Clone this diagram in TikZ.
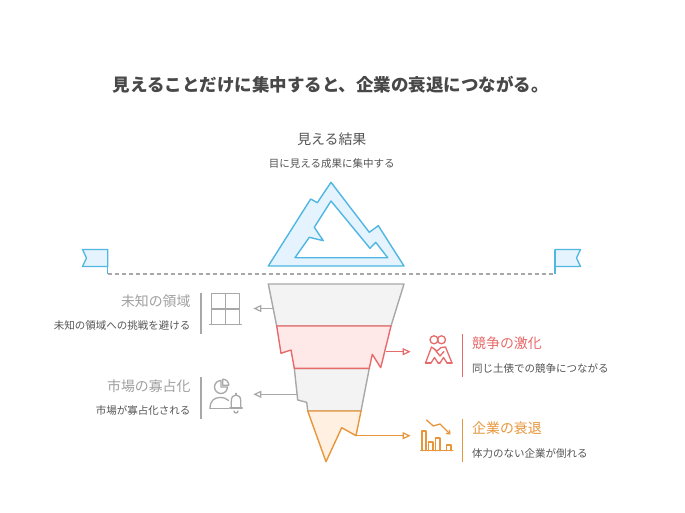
\documentclass[tikz,border=0pt]{standalone}
\usepackage{fontspec}
\setmainfont{Noto Sans CJK JP}
\usetikzlibrary{arrows.meta}
\definecolor{ttl}{RGB}{72,72,72}
\definecolor{desc}{RGB}{85,85,85}
\definecolor{lgray}{RGB}{160,160,160}
\definecolor{gline}{RGB}{168,168,168}
\definecolor{gfill}{RGB}{243,243,243}
\definecolor{rline}{RGB}{232,107,107}
\definecolor{rfill}{RGB}{255,232,232}
\definecolor{oline}{RGB}{232,150,60}
\definecolor{ofill}{RGB}{255,240,225}
\definecolor{bline}{RGB}{80,182,226}
\definecolor{bfill}{RGB}{228,243,253}
\tikzset{
  head/.style={inner sep=0pt, font=\fontsize{13.9}{16}\selectfont},
  sub/.style={inner sep=0pt, text=desc, font=\fontsize{10.5}{12}\selectfont},
  arr/.style={-{Triangle[open,length=8pt,width=7pt]}, line width=1.2pt},
  icon/.style={line width=1.3pt, line cap=round, line join=round},
  seg/.style={line width=1.4pt, line join=round},
}
\begin{document}
\begin{tikzpicture}[x=1pt,y=-1pt]
\useasboundingbox (0,0) rectangle (685,513);
\fill[white] (0,0) rectangle (685,513);

% title
\node[inner sep=0pt, anchor=west, text=ttl, font=\bfseries\fontsize{17.5}{20}\selectfont] (title) at (112.5,85) {見えることだけに集中すると、企業の衰退につながる。};

% top label
\node[head, text=desc] (topH) at (331.8,139) {見える結果};
\node[sub] (topS) at (331.8,164) {目に見える成果に集中する};

% mountain
\path[fill=bfill, draw=bline, line width=1.4pt, line join=round, even odd rule]
 (268.3,266) -- (310.7,199) -- (317.3,202.7) -- (331,182.3) -- (369.3,232.3) -- (378.3,225.7) -- (404,266) -- cycle
 (331,201) -- (370,248.3) -- (375.7,242.3) -- (387.7,257.7) -- (295,257.7) -- (309.3,237.3) -- (323.3,240.7) -- (314.3,227.3) -- cycle;

% flags and dashed line
\coordinate (lfb) at (107.7,274);
\coordinate (rfb) at (555,274);
\draw[gline, line width=1.2pt, dash pattern=on 4pt off 3pt] (lfb) -- (rfb);
\draw[fill=bfill, draw=bline, line width=1.3pt, line join=round]
 (82.5,249.5) -- (107.7,249.5) -- (107.7,266.5) -- (82.5,266.5) -- (86.5,258) -- cycle;
\draw[bline, line width=1.4pt] (107.7,249.5) -- (lfb);
\draw[fill=bfill, draw=bline, line width=1.3pt, line join=round]
 (555,249.5) -- (580.5,249.5) -- (576.5,258) -- (580.5,266.5) -- (555,266.5) -- cycle;
\draw[bline, line width=1.4pt] (555,249.5) -- (rfb);

% funnel
\path[seg, fill=gfill, draw=gline] (268.3,284) -- (404,284) -- (391,326) -- (276.7,326) -- cycle;
\path[seg, fill=gfill, draw=gline] (294.3,368.3) -- (369.3,368.3) -- (361,411) -- (307.7,411) -- (306.7,402.3) -- (297.7,400) -- cycle;
\path[seg, fill=ofill, draw=oline] (307.7,411) -- (361,411) -- (356,435.7) -- (341.7,427.7) -- (326,461.7) -- cycle;
\path[seg, fill=rfill, draw=rline] (276.7,326) -- (391,326) -- (380.7,367.7) -- (372.3,354.3) -- (369.3,368.3) -- (294.3,368.3) -- (291,350) -- (281,353.3) -- cycle;

% arrows
\coordinate (a1s) at (273.2,308.5); \coordinate (a1e) at (253.3,308.5);
\coordinate (a2s) at (297,394.3);   \coordinate (a2e) at (253.3,394.3);
\coordinate (a3s) at (385.7,351.7); \coordinate (a3e) at (410.7,351.7);
\coordinate (a4s) at (356,435.7);   \coordinate (a4e) at (410.7,435.7);
\draw[arr, gline] (a1s) -- (a1e);
\draw[arr, gline] (a2s) -- (a2e);
\draw[arr, rline] (a3s) -- (a3e);
\draw[arr, oline] (a4s) -- (a4e);

% left labels
\node[head, text=lgray, anchor=east] (l1h) at (190.7,301.7) {未知の領域};
\node[sub, anchor=east] (l1s) at (190.5,326) {未知の領域への挑戦を避ける};
\draw[gline, line width=1.4pt] (201,292.7) -- (201,334);
\node[head, text=lgray, anchor=east] (l2h) at (190.7,386.7) {市場の寡占化};
\node[sub, anchor=east] (l2s) at (190.5,410) {市場が寡占化される};
\draw[gline, line width=1.4pt] (201,377.3) -- (201,419.3);

% window icon
\draw[icon, gline] (211.5,324.5) -- (211.5,293.5) -- (239.5,293.5) -- (239.5,324.5);
\draw[icon, gline] (225.5,293.5) -- (225.5,324.5) (211.5,309) -- (239.5,309);
\draw[icon, gline] (209.5,324.8) -- (241.5,324.8);

% pie/person/bell icon
\draw[icon, gline] (221,387) -- ++(6.5,0) arc[start angle=0, end angle=270, radius=6.5] -- cycle;
\draw[icon, gline] (222.8,385.2) -- ++(6,0) arc[start angle=0, end angle=-90, radius=6] -- cycle;
\draw[icon, gline] (210,408.5) .. controls (210,401) and (214,397.5) .. (220,397.5) .. controls (224,397.5) and (226.5,398.5) .. (228.5,400.5);
\draw[icon, gline] (210,408.5) -- (228.5,408.5);
\draw[icon, gline] (229.8,408) -- (242.3,408);
\draw[icon, gline] (231.3,408) -- (231.3,401.5) .. controls (231.3,397) and (233,395) .. (236,395) .. controls (239,395) and (240.8,397) .. (240.8,401.5) -- (240.8,408);
\draw[icon, gline] (236,395) -- (236,393.3);
\draw[icon, gline] (234,411) arc[start angle=180, end angle=0, radius=2];

% right labels
\draw[rline, line width=1.4pt] (462.3,334) -- (462.3,376.7);
\node[head, text=rline, anchor=west] (r1h) at (472,343.3) {競争の激化};
\node[sub, anchor=west] (r1s) at (472,368.3) {同じ土俵での競争につながる};
\draw[oline, line width=1.4pt] (462.3,419.3) -- (462.3,461.7);
\node[head, text=oline, anchor=west] (r2h) at (472,428.3) {企業の衰退};
\node[sub, anchor=west] (r2s) at (472,453.3) {体力のない企業が倒れる};

% hugging icon
\draw[icon, rline] (434,339.8) circle[radius=4];
\draw[icon, rline] (441.5,339.8) circle[radius=4];
\draw[icon, rline] (425.5,363) -- (431.5,347) -- (437,351) -- (441,347.5) -- (445.5,347) -- (452,363);
\draw[icon, rline] (434.5,349) -- (440,356) -- (444,351.5);
\draw[icon, rline] (431,363) -- (434.5,357.5) -- (438,363) (440,363) -- (443.5,357.5) -- (447,363);
\draw[icon, rline] (425.5,363) -- (431,363) (438,363) -- (440,363) (447,363) -- (452,363);

% declining chart icon
\draw[icon, oline] (420.7,450.7) -- (452.7,450.7);
\draw[icon, oline] (422,450.7) -- (422,431) -- (426,431) -- (426,450.7);
\draw[icon, oline] (428.7,450.7) -- (428.7,442) -- (433,442) -- (433,450.7);
\draw[icon, oline] (435.5,450.7) -- (435.5,438) -- (440,438) -- (440,450.7);
\draw[icon, oline] (446.7,450.7) -- (446.7,445) -- (451,445) -- (451,450.7);
\draw[icon, oline, -{Straight Barb[length=3pt,width=5pt]}] (426.5,420) -- (433.3,426) -- (440,424) -- (450.5,434.5);
\end{tikzpicture}
\end{document}
